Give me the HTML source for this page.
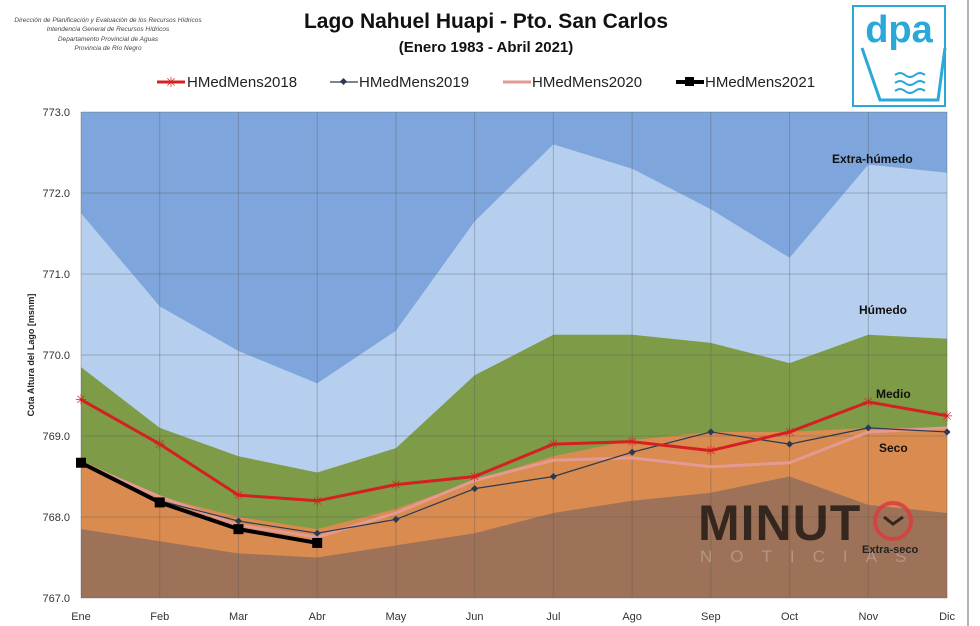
<!DOCTYPE html>
<html><head><meta charset="utf-8"><style>
body{margin:0;background:#fff;width:980px;height:626px;overflow:hidden;font-family:"Liberation Sans",sans-serif}
</style></head><body>
<svg id="s" width="980" height="626" xmlns="http://www.w3.org/2000/svg" style="position:absolute;left:0;top:0">
<rect x="0" y="0" width="980" height="626" fill="#fff"/>
<line x1="968" y1="0" x2="968" y2="626" stroke="#999" stroke-width="1.5"/>
<g font-style="italic" font-size="6.5" fill="#444" text-anchor="middle">
<text x="108" y="22">Dirección de Planificación y Evaluación de los Recursos Hídricos</text>
<text x="108" y="31">Intendencia General de Recursos Hídricos</text>
<text x="108" y="41">Departamento Provincial de Aguas</text>
<text x="108" y="50">Provincia de Río Negro</text>
</g>
<text x="486" y="28" font-size="21" font-weight="bold" text-anchor="middle" fill="#111">Lago Nahuel Huapi  -  Pto. San Carlos</text>
<text x="486" y="52" font-size="15" font-weight="bold" text-anchor="middle" fill="#111">(Enero 1983 - Abril 2021)</text>
<g font-size="15" fill="#222">
<line x1="157" y1="82" x2="185" y2="82" stroke="#d42020" stroke-width="3"/><text x="171" y="87" font-size="14" fill="#d42020" text-anchor="middle">✳</text>
<text x="187" y="87">HMedMens2018</text>
<line x1="330" y1="82" x2="358" y2="82" stroke="#2a3a50" stroke-width="1.3"/><rect x="341" y="79" width="5" height="5" fill="#2a3a50" transform="rotate(45 343.5 81.5)"/>
<text x="359" y="87">HMedMens2019</text>
<line x1="503" y1="82" x2="531" y2="82" stroke="#e49a92" stroke-width="3"/>
<text x="532" y="87">HMedMens2020</text>
<line x1="676" y1="82" x2="704" y2="82" stroke="#000" stroke-width="4"/><rect x="685" y="77" width="9" height="9" fill="#000"/>
<text x="705" y="87">HMedMens2021</text>
</g>
<rect x="853" y="6" width="92" height="100" fill="#fff" stroke="#2aa8d8" stroke-width="2"/>
<text x="899" y="42" font-size="38" font-weight="bold" fill="#2aa8d8" text-anchor="middle">dpa</text>
<path d="M862 48 L880 100 L938 100 L945 48" fill="none" stroke="#2aa8d8" stroke-width="3"/>
<path d="M895 75 q5 -4 10 0 t10 0 t10 0 M895 83 q5 -4 10 0 t10 0 t10 0 M895 91 q5 -4 10 0 t10 0 t10 0" fill="none" stroke="#2aa8d8" stroke-width="2"/>
<g id="plot"></g>
<g font-size="11" fill="#333" text-anchor="end" id="ylab"></g>
<text transform="translate(34 355) rotate(-90)" font-size="9" font-weight="bold" fill="#222" text-anchor="middle">Cota Altura del Lago [msnm]</text>
<g font-size="12" font-weight="bold" fill="#111">
<text x="832" y="163">Extra-húmedo</text>
<text x="859" y="314">Húmedo</text>
<text x="876" y="398">Medio</text>
<text x="879" y="452">Seco</text>
</g>
<g opacity="0.9">
<text x="698" y="540" font-size="50" font-weight="bold" fill="#2a1e18" letter-spacing="1">MINUT</text>
<circle cx="893" cy="521" r="18" fill="none" stroke="#d84040" stroke-width="4"/>
<path d="M884 517 L893 524 L903 517" fill="none" stroke="#2a1e18" stroke-width="3"/>
<text x="700" y="562" font-size="17" fill="#b59a8a" letter-spacing="18">NOTICIAS</text>
</g>
<text x="862" y="553" font-size="11" font-weight="bold" fill="#222">Extra-seco</text>
</svg>
<script>
const NS="http://www.w3.org/2000/svg";
const X=i=>81+i*78.73, Y=v=>112+(773-v)*81;
const g=document.getElementById('plot');
function el(t,a){const e=document.createElementNS(NS,t);for(const k in a)e.setAttribute(k,a[k]);g.appendChild(e);return e;}
const hum=[771.75,770.6,770.05,769.65,770.3,771.65,772.6,772.3,771.8,771.2,772.35,772.25];
const med=[769.85,769.1,768.75,768.55,768.85,769.75,770.25,770.25,770.15,769.9,770.25,770.2];
const sec=[768.7,768.25,768.0,767.85,768.1,768.45,768.75,768.95,769.05,769.05,769.1,769.1];
const xs=[767.85,767.7,767.55,767.5,767.65,767.8,768.05,768.2,768.3,768.5,768.15,768.05];
el('rect',{x:X(0),y:Y(773),width:X(11)-X(0),height:Y(767)-Y(773),fill:'#7fa6dc'});
function band(a,c){let d='M'+X(0)+' '+Y(767);a.forEach((v,i)=>d+=' L'+X(i)+' '+Y(v));d+=' L'+X(11)+' '+Y(767)+'Z';el('path',{d,fill:c});}
band(hum,'#b6cfee');band(med,'#7e9b47');band(sec,'#d98b50');band(xs,'#9e7258');
for(let v=767;v<=773;v++){el('line',{x1:X(0),x2:X(11),y1:Y(v),y2:Y(v),stroke:'#555',"stroke-opacity":0.35,"stroke-width":1});
const t=document.createElementNS(NS,'text');t.setAttribute('x',70);t.setAttribute('y',Y(v)+4);t.textContent=v.toFixed(1);document.getElementById('ylab').appendChild(t);}
const m=['Ene','Feb','Mar','Abr','May','Jun','Jul','Ago','Sep','Oct','Nov','Dic'];
m.forEach((n,i)=>{el('line',{x1:X(i),x2:X(i),y1:Y(773),y2:Y(767),stroke:'#555',"stroke-opacity":0.35});
const t=el('text',{x:X(i),y:620,"font-size":11,fill:'#333',"text-anchor":"middle"});t.textContent=n;});
function line(a,c,w){el('polyline',{points:a.map((v,i)=>X(i)+','+Y(v)).join(' '),fill:'none',stroke:c,"stroke-width":w,"stroke-linejoin":"round"});}
const l20=[768.67,768.25,767.9,767.75,768.05,768.45,768.7,768.73,768.62,768.67,769.05,769.1];
const l19=[768.67,768.2,767.95,767.8,767.97,768.35,768.5,768.8,769.05,768.9,769.1,769.05];
const l18=[769.45,768.9,768.27,768.2,768.4,768.5,768.9,768.93,768.82,769.05,769.42,769.25];
const l21=[768.67,768.18,767.85,767.68];
line(l20,'#e49a92',3);
line(l19,'#2a3a50',1.2);l19.forEach((v,i)=>el('rect',{x:X(i)-2.5,y:Y(v)-2.5,width:5,height:5,fill:'#2a3a50',transform:`rotate(45 ${X(i)} ${Y(v)})`}));
line(l18,'#d42020',3);l18.forEach((v,i)=>{const t=el('text',{x:X(i),y:Y(v)+5,"font-size":14,fill:'#d42020',"text-anchor":"middle"});t.textContent='✳';});
line(l21,'#000',4);l21.forEach((v,i)=>el('rect',{x:X(i)-5,y:Y(v)-5,width:10,height:10,fill:'#000'}));
</script>
</body></html>
